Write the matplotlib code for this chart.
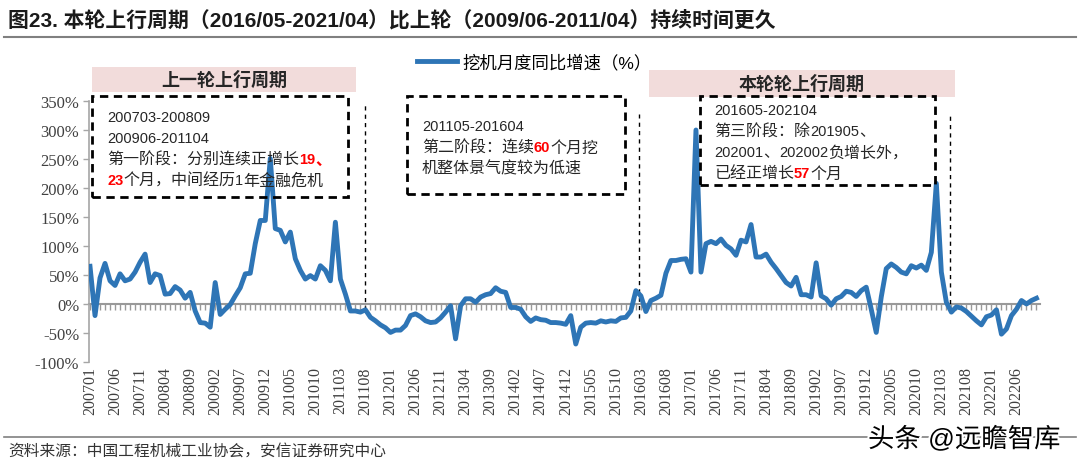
import matplotlib
matplotlib.use("Agg")
import matplotlib.pyplot as plt
from matplotlib.patches import Rectangle
from matplotlib.lines import Line2D
import matplotlib.patheffects as pe
import numpy as np
import pandas as pd

plt.rcParams["font.serif"] = ["Liberation Serif", "DejaVu Serif"]

# ---------------- data ----------------
start_month = "2007-01"
growth = [
    65, -20, 45, 70, 40, 32, 52, 40, 43, 55,
    72, 86, 37, 52, 49, 17, 18, 30, 24, 10,
    20, -12, -32, -33, -40, 37, -18, -9, -1, 14,
    28, 52, 53, 104, 144, 144, 251, 130, 127, 107,
    124, 78, 58, 43, 49, 43, 66, 58, 40, 141,
    43, 17, -12, -12, -14, -10, -23, -29, -36, -41,
    -49, -45, -45, -37, -20, -17, -22, -29, -32, -31,
    -24, -14, -3, -60, -3, 9, 9, 3, 12, 16,
    18, 28, 22, 20, -6, -6, -9, -22, -30, -24,
    -27, -28, -32, -32, -33, -35, -20, -69, -40, -33,
    -32, -33, -29, -31, -29, -30, -24, -23, -12, 23,
    14, -13, 6, 10, 15, 53, 75, 75, 77, 78,
    55, 300, 55, 104, 108, 104, 112, 101, 95, 84,
    110, 107, 137, 81, 81, 86, 72, 61, 49, 37,
    31, 46, 16, 16, 12, 71, 14, 9, -2, 9,
    13, 22, 20, 13, 23, 29, -9, -49, 12, 61,
    69, 63, 55, 52, 66, 62, 67, 58, 89, 208,
    55, 3, -14, -5, -7, -13, -21, -29, -36, -22,
    -19, -10, -52, -43, -20, -9, 6, 0, 6, 10,
]
months = pd.period_range(start_month, periods=len(growth), freq="M")
month_labels = [p.strftime("%Y%m") for p in months]
label_step = 5
y_ticks = [-100, -50, 0, 50, 100, 150, 200, 250, 300, 350]

series_name = "挖机月度同比增速（%）"
title = "图23. 本轮上行周期（2016/05-2021/04）比上轮（2009/06-2011/04）持续时间更久"
source = "资料来源：中国工程机械工业协会，安信证券研究中心"
header_left = "上一轮上行周期"
header_right = "本轮轮上行周期"

# divider lines (month index, top %, bottom %)
divider_x = [54.9, 109.6, 171.7]
divider_top = [344, 327, 330]
divider_bottom = [-10, -24, -14]

RED = "#FF0000"
box1_lines = [["200703-200809"], ["200906-201104"],
              ["第一阶段：分别连续正增长", ("19、", RED)],
              [("23", RED), "个月，中间经历1年金融危机"]]
box2_lines = [["201105-201604"],
              ["第二阶段：连续", ("60", RED), "个月挖"],
              ["机整体景气度较为低速"]]
box3_lines = [["201605-202104"], ["第三阶段：除201905、"],
              ["202001、202002负增长外，"],
              ["已经正增长", ("57", RED), "个月"]]

# ---------------- figure ----------------
W, H = 1080, 464
fig = plt.figure(figsize=(W / 100, H / 100), dpi=100)
fig.patch.set_facecolor("white")

def fx(px):
    return px / W

def fy(py):
    return 1 - py / H

CJK = ["Liberation Sans", "Noto Sans CJK SC"]
BLUE = "#2E75B6"
GREY = "#A6A6A6"
TXT = "#262626"

ax_l, ax_r, ax_t, ax_b = 89, 1040, 102, 363
ax = fig.add_axes([fx(ax_l), fy(ax_b), fx(ax_r) - fx(ax_l), fy(ax_t) - fy(ax_b)])
x = np.arange(len(growth))
ax.plot(x, growth, color=BLUE, lw=3.5, solid_joinstyle="round", zorder=3)
ax.set_ylim(-100, 350)
ax.set_xlim(-0.2, 189.7)

for s in ["top", "right", "bottom"]:
    ax.spines[s].set_visible(False)
ax.spines["left"].set_color(GREY)
ax.spines["left"].set_linewidth(1.2)
ax.set_yticks(y_ticks)
ax.set_yticklabels([f"{v}%" for v in y_ticks], fontsize=12, fontfamily="serif",
                   color="#404040")
ax.tick_params(axis="y", direction="out", length=4, width=1, color=GREY, pad=3)

tick_pos = x[::label_step]
ax.set_xticks(tick_pos)
ax.set_xticklabels([month_labels[i] for i in tick_pos], rotation=90, fontsize=11.5,
                   fontfamily="serif", color="#404040")
ax.tick_params(axis="x", length=0, pad=3)

# zero-crossing category axis with monthly ticks
zero_frac = (0 - (-100)) / (350 - (-100))
sec = ax.secondary_xaxis(zero_frac)
sec.set_xticks(x)
sec.set_xticklabels([])
sec.tick_params(axis="x", direction="out", length=4, width=1, color="#999999")
sec.spines["bottom"].set_color("#999999")
sec.spines["bottom"].set_linewidth(1.5)
for s in ["top", "left", "right"]:
    if s in sec.spines:
        sec.spines[s].set_visible(False)

# divider dashed lines
ax.vlines(divider_x, divider_bottom, divider_top, colors="black", lw=1.0,
          linestyles=(0, (3, 3)), zorder=2)

# ---------------- title and frame lines ----------------
fig.text(fx(8), fy(20), title, fontsize=15, fontweight="bold", family=CJK,
         va="center", ha="left", color="#1a1a1a")
fig.add_artist(Line2D([fx(4), fx(1076)], [fy(38), fy(38)], color="#808080", lw=1.5))
fig.add_artist(Line2D([fx(4), fx(1076)], [fy(438), fy(438)], color="#808080", lw=1.2))
fig.text(fx(8), fy(451), source, fontsize=11.3, family=CJK, va="center", ha="left",
         color="#333333", style="italic")
fig.text(fx(868), fy(440), "头条 @远瞻智库", fontsize=19, family=CJK, va="center",
         ha="left", color="black",
         path_effects=[pe.withStroke(linewidth=3, foreground="white")])

# ---------------- legend ----------------
handle = Line2D([], [], color=BLUE, lw=3.5)
fig.legend([handle], [series_name], loc="center", bbox_to_anchor=(fx(534), fy(63)),
           frameon=False, prop={"family": CJK, "size": 12.5}, handlelength=2.3,
           handletextpad=0.3)

# ---------------- headers ----------------
def header(x0, y0, x1, y1, text):
    fig.add_artist(Rectangle((fx(x0), fy(y1)), fx(x1) - fx(x0), fy(y0) - fy(y1),
                             transform=fig.transFigure, fc="#F2DCDB", ec="none", zorder=0))
    fig.text(fx((x0 + x1) / 2), fy((y0 + y1) / 2), text, fontsize=13, fontweight="bold",
             family=CJK, ha="center", va="center", color="#262626")

header(92, 68, 356, 93, header_left)
header(649, 71, 955, 98, header_right)

# ---------------- dashed boxes ----------------
def dbox(x0, y0, x1, y1):
    fig.add_artist(Rectangle((fx(x0), fy(y1)), fx(x1) - fx(x0), fy(y0) - fy(y1),
                             transform=fig.transFigure, fc="none", ec="black", lw=2.0,
                             linestyle=(0, (3, 2)), zorder=5))

dbox(92, 97, 348, 198)
dbox(407, 97, 625, 195)
dbox(700, 97, 935, 186)

fig.canvas.draw()
renderer = fig.canvas.get_renderer()

def split_runs(s):
    runs, cur, cur_ascii = [], "", None
    for ch in s:
        a = ord(ch) < 128
        if cur and a != cur_ascii:
            runs.append((cur, cur_ascii))
            cur = ""
        cur += ch
        cur_ascii = a
    if cur:
        runs.append((cur, cur_ascii))
    return runs

def rich_lines(x0, y_list, lines, latin_size=10.5, cjk_size=11.5):
    for y, parts in zip(y_list, lines):
        cx = x0
        for p in parts:
            if isinstance(p, tuple):
                s, c = p
                bold = "bold"
            else:
                s, c, bold = p, TXT, "normal"
            for run, is_ascii in split_runs(s):
                t = fig.text(fx(cx), fy(y), run,
                             fontsize=latin_size if is_ascii else cjk_size,
                             family=CJK, color=c, fontweight=bold,
                             va="center", ha="left", zorder=6)
                cx += t.get_window_extent(renderer).width

rich_lines(107, [118, 139, 160, 181], box1_lines)
rich_lines(422, [127, 148, 169], box2_lines)
rich_lines(714, [111, 132, 153, 174], box3_lines)

fig.savefig("out.png", dpi=100, facecolor="white")
